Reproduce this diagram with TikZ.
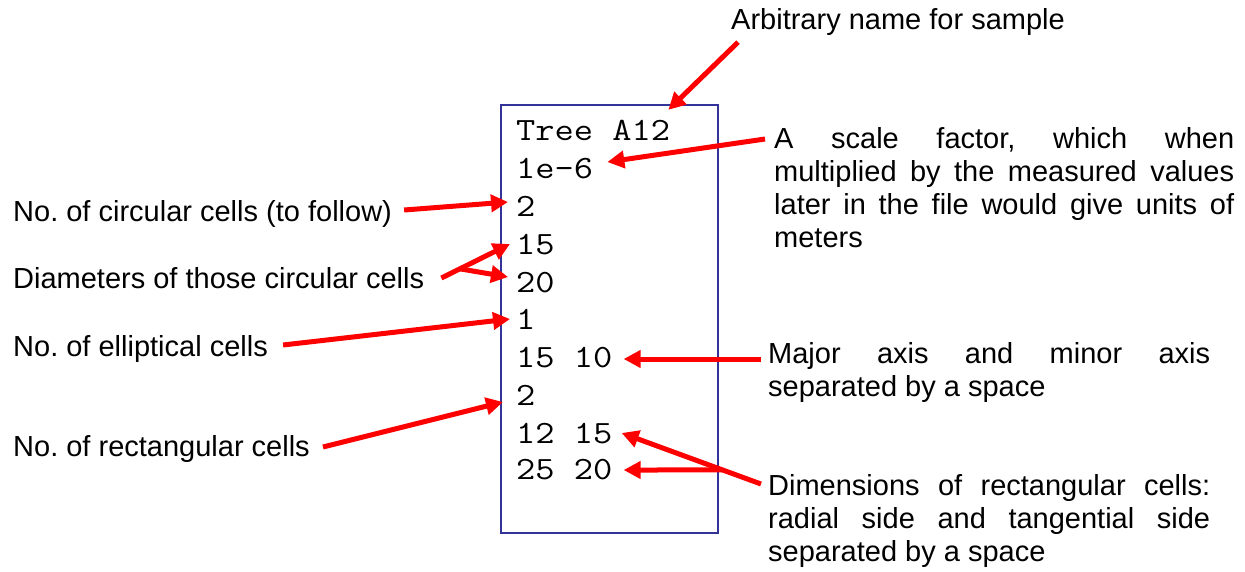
\documentclass[tikz,border=0pt]{standalone}
\usepackage{fontspec}
\setmainfont{Liberation Sans}
\newfontfamily\monofont[FakeStretch=1.15]{Latin Modern Mono}
\usetikzlibrary{arrows.meta}
\tolerance=10000 \hyphenpenalty=10000 \exhyphenpenalty=10000
\frenchspacing
\definecolor{boxblue}{RGB}{51,51,153}
\definecolor{arrred}{RGB}{255,0,0}
\begin{document}
\begin{tikzpicture}[x=1pt,y=-1pt,
  mono/.style={anchor=base west, inner sep=0pt, font=\monofont\fontsize{32.5}{38}\selectfont, text height=22pt, text depth=0pt},
  lab/.style={anchor=base west, inner sep=0pt, font=\fontsize{29}{33}\selectfont\frenchspacing, text height=21pt, text depth=6pt},
  note/.style={anchor=north west, inner sep=0pt, font=\fontsize{29}{33}\selectfont\frenchspacing, align=justify},
  arr/.style={draw=arrred, line width=5pt, -{Triangle[length=17pt,width=17pt]}},
  filebox/.style={draw=boxblue, line width=2pt, inner sep=0pt, anchor=north west}]
\useasboundingbox (0,0) rectangle (1245,571);
% file box
\node[filebox, minimum width=217pt, minimum height=428pt] (file) at (499.5,104) {};
% file contents
\node[mono] (tA) at (516,140) {Tree A12};
\node[mono] (tS) at (516,178) {1e-6};
\node[mono] (tC) at (516,216) {2};
\node[mono] (tD1) at (516,254) {15};
\node[mono] (tD2) at (516,292) {20};
\node[mono] (tE) at (516,329) {1};
\node[mono] (tEd) at (516,367) {15 10};
\node[mono] (tR) at (516,405) {2};
\node[mono] (tR1) at (516,443) {12 15};
\node[mono] (tR2) at (516,479) {25 20};
% left labels
\node[lab] (lC) at (13,221) {No. of circular cells (to follow)};
\node[lab] (lD) at (13,288) {Diameters of those circular cells};
\node[lab] (lE) at (13,356) {No. of elliptical cells};
\node[lab] (lR) at (13,456) {No. of rectangular cells};
% top label
\node[lab] (lN) at (731,29) {Arbitrary name for sample};
% right notes
\node[note, text width=460pt] (nS) at (774,127) {A scale factor, which when\linebreak multiplied by the measured values\linebreak later in the file would give units of\linebreak meters};
\node[note, text width=442pt] (nE) at (768,342) {Major axis and minor axis\linebreak separated by a space};
\node[note, text width=442pt] (nR) at (768,474) {Dimensions of rectangular cells:\linebreak radial side and tangential side\linebreak separated by a space};
% arrows
\draw[arr] ([shift={(7,7)}]lN.south west) -- ([shift={(-2,-8)}]tA.north east);
\draw[arr] ([shift={(-9,12)}]nS.north west) -- ([shift={(14,-5)}]tS.east);
\draw[arr] ([shift={(12,-3.5)}]lC.east) -- ([shift={(-8,-3)}]tC.west);
\draw[arr] ([shift={(17,-2.5)}]lD.east) -- coordinate[pos=0.27] (jD) ([shift={(-6,1)}]tD1.west);
\draw[arr] (jD) -- ([shift={(-8,-4)}]tD2.west);
\draw[arr] ([shift={(15,-3.5)}]lE.east) -- ([shift={(-6,1)}]tE.west);
\draw[arr] ([shift={(-7,17)}]nE.north west) -- ([shift={(11,3)}]tEd.east);
\draw[arr] ([shift={(13,-1.5)}]lR.east) -- ([shift={(-13,8)}]tR.west);
\draw[arr] ([shift={(-7,10)}]nR.north west) -- coordinate[pos=0.275] (jR) ([shift={(9,1)}]tR1.east);
\draw[arr] (jR) -- ([shift={(11,2)}]tR2.east);
\end{tikzpicture}
\end{document}
